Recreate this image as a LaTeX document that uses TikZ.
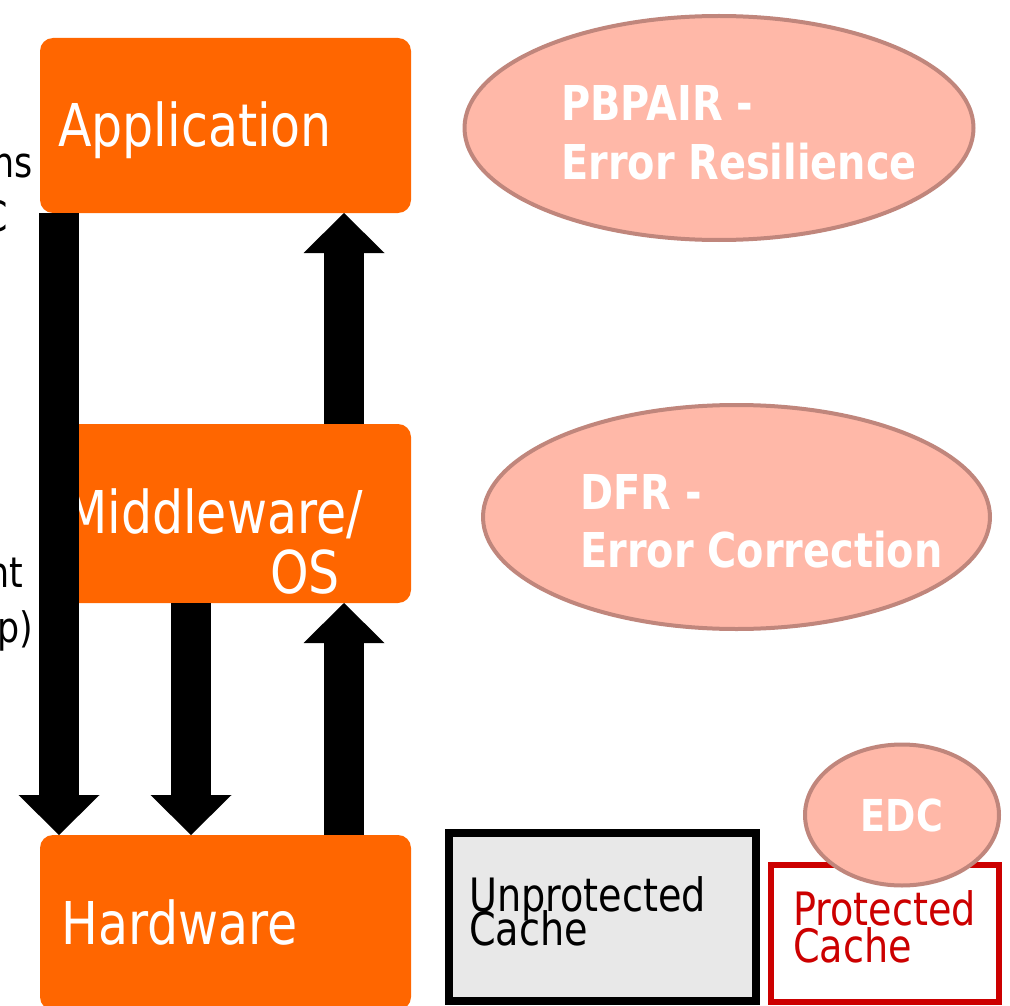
\documentclass[tikz,border=0pt]{standalone}
\usepackage{fontspec}
\setmainfont{DejaVu Sans}[FakeStretch=0.83]
\usetikzlibrary{positioning, shapes.geometric, arrows.meta, calc}

\definecolor{layerorange}{HTML}{FF6600}
\definecolor{schemefill}{HTML}{FFB8A8}
\definecolor{schemeline}{HTML}{C0867C}
\definecolor{cachegray}{HTML}{E8E8E8}
\definecolor{cachered}{HTML}{CC0000}

\begin{document}
\begin{tikzpicture}[
        x=1pt, y=-1pt,
        layer/.style={rectangle, rounded corners=13pt, fill=layerorange, minimum width=371pt, outer sep=0pt, inner sep=0pt},
        layerlabel/.style={text=white, font=\fontsize{59}{60}\selectfont, inner sep=0pt},
        scheme/.style={ellipse, fill=schemefill, draw=schemeline, line width=4pt, inner sep=0pt},
        schemelabel/.style={text=white, font=\fontsize{48}{58}\selectfont\bfseries, anchor=base west, inner sep=0pt},
        cachelabel/.style={font=\fontsize{46}{36}\selectfont, anchor=base west, inner sep=0pt},
        sidenote/.style={font=\fontsize{42}{42}\selectfont, anchor=base east, inner sep=0pt},
        flow/.style={line width=40pt, -{Triangle[length=40pt, width=81pt, line width=0pt]}}
      ]

      \useasboundingbox (0,0) rectangle (1010,1006);
      \clip (0,0) rectangle (1010,1006);

      % notes running off the left edge
      \node[sidenote] (note1) at (33,178) {ns};
      \node[sidenote] (note2) at (8,231) {C};
      \node[sidenote] (note3) at (23,587) {nt};
      \node[sidenote] (note4) at (33,642) {p)};

      % the three layers
      \node[layer, minimum height=175pt] (app) at (225.5,125.5) {};
      \node[layer, minimum height=179pt] (mid) at (225.5,513.5) {};
      \node[layer, minimum height=175pt] (hw) at (225.5,922.5) {};

      \node[layerlabel, anchor=base west] (applbl) at (58,147) {Application};
      \node[layerlabel, anchor=base east] (midlbl) at (363,533) {Middleware/};
      \node[layerlabel, anchor=base west] (oslbl) at (270,593) {OS};
      \node[layerlabel, anchor=base west] (hwlbl) at (61,944) {Hardware};

      % flows between layers
      \draw[flow] ($(app.south west)+(19,0)$) -- ($(hw.north west)+(19,0)$);
      \draw[flow] ($(mid.south west)+(151,0)$) -- ($(hw.north west)+(151,0)$);
      \draw[flow] ($(hw.north west)+(304,0)$) -- ($(mid.south west)+(304,0)$);
      \draw[flow] ($(mid.north west)+(304,0)$) -- ($(app.south west)+(304,0)$);

      % schemes on each layer
      \node[scheme, minimum width=509pt, minimum height=224pt] (pbpair) at (719,128) {};
      \node[schemelabel] (pbpair1) at (561,121) {PBPAIR -};
      \node[schemelabel] (pbpair2) at (561,179) {Error Resilience};

      \node[scheme, minimum width=507pt, minimum height=224pt] (dfr) at (736.5,517) {};
      \node[schemelabel] (dfr1) at (580,509) {DFR -};
      \node[schemelabel] (dfr2) at (580,567) {Error Correction};

      % caches
      \node[rectangle, draw=black, line width=8pt, fill=cachegray, minimum width=307pt, minimum height=168pt, inner sep=0pt] (unprot) at (602.5,917) {};
      \node[cachelabel] (unprot1) at (469,911) {Unprotected};
      \node[cachelabel] (unprot2) at (469,945) {Cache};

      \node[rectangle, draw=cachered, line width=6pt, fill=white, minimum width=228pt, minimum height=137pt, inner sep=0pt] (prot) at (885,933.5) {};
      \node[cachelabel, text=cachered] (prot1) at (793,925) {Protected};
      \node[cachelabel, text=cachered] (prot2) at (793,962) {Cache};

      \node[scheme, minimum width=194pt, minimum height=141pt, text=white, font=\fontsize{44}{44}\selectfont\bfseries, text depth=0pt] (edc) at (902,815) {EDC};
      \end{tikzpicture}
\end{document}
